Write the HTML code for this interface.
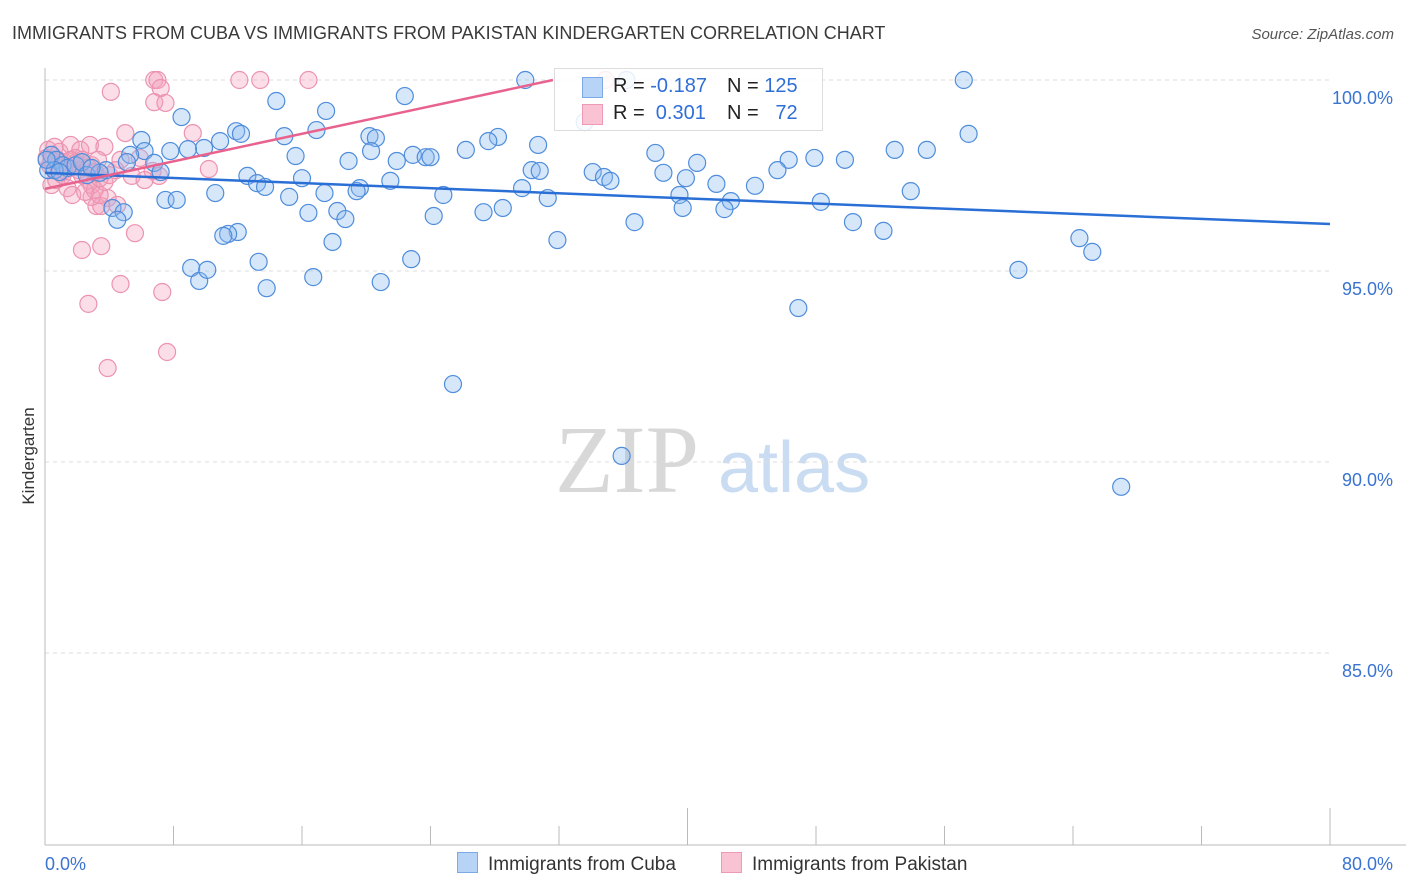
<!DOCTYPE html>
<html><head><meta charset="utf-8">
<style>
body{margin:0;background:#fff;font-family:"Liberation Sans",sans-serif;}
#c{position:relative;width:1406px;height:892px;overflow:hidden}
</style></head>
<body>
<div id="c">
<svg id="s" width="1406" height="892" xmlns="http://www.w3.org/2000/svg">
<text x="12" y="39" font-size="18" fill="#3a3a3a">IMMIGRANTS FROM CUBA VS IMMIGRANTS FROM PAKISTAN KINDERGARTEN CORRELATION CHART</text>
<text x="1394" y="39" font-size="15" fill="#555" font-style="italic" text-anchor="end">Source: ZipAtlas.com</text>
<text x="34" y="456" font-size="17" fill="#333" text-anchor="middle" transform="rotate(-90 34 456)">Kindergarten</text>
<g>
<text x="555" y="492" font-size="96" fill="#d8d8d8" font-family="Liberation Serif, serif">ZIP</text>
<text x="718" y="492" font-size="72" fill="#c9dcf2">atlas</text>
</g>
<g id="grid"></g>
<g id="axes"></g>
<g id="pts"></g>
<g id="trend"></g>
</svg>
<div style="position:absolute;left:554px;top:68px;width:267px;height:61px;border:1px solid #ddd;background:rgba(255,255,255,0.85);font-size:20px;">
 <div style="position:absolute;left:27px;top:8px;width:19px;height:19px;background:#b7d3f5;border:1px solid #7aa9e6"></div>
 <div style="position:absolute;left:58px;top:6px;color:#222">R = <span style="color:#2f6fd6">-0.187</span></div>
 <div style="position:absolute;left:172px;top:6px;color:#222">N = <span style="color:#2f6fd6">125</span></div>
 <div style="position:absolute;left:27px;top:35px;width:19px;height:19px;background:#f9c3d3;border:1px solid #ee9ab4"></div>
 <div style="position:absolute;left:58px;top:33px;color:#222">R = &nbsp;<span style="color:#2f6fd6">0.301</span></div>
 <div style="position:absolute;left:172px;top:33px;color:#222">N = &nbsp;&nbsp;<span style="color:#2f6fd6">72</span></div>
</div>
<div style="position:absolute;top:852px;left:457px;font-size:19px;color:#333;">
 <span style="position:absolute;left:0;top:0;white-space:nowrap"><span style="display:inline-block;width:19px;height:19px;background:#b7d3f5;border:1px solid #7aa9e6;vertical-align:-3px;margin-right:10px"></span>Immigrants from Cuba</span>
 <span style="position:absolute;left:264px;top:0;white-space:nowrap"><span style="display:inline-block;width:19px;height:19px;background:#f9c3d3;border:1px solid #ee9ab4;vertical-align:-3px;margin-right:10px"></span>Immigrants from Pakistan</span>
</div>
</div>
<script>
const yTicks=[100,95,90,85];
const yTickLabels=["100.0%","95.0%","90.0%","85.0%"];
const xTickLabels=["0.0%","80.0%"];
const cubaX=[29.9,36.2,57.2,14.4,22.4,17.5,8.5,11.9,6.0,14.9,20.2,20.6,16.9,12.2,28.2,27.6,30.7,26.2,9.9,10.9,8.9,7.8,6.2,15.6,20.3,22.9,23.7,24.0,21.9,18.9,38.0,40.6,46.3,47.9,49.8,52.9,54.9,57.5,30.3,30.8,34.1,34.8,35.2,38.5,39.9,45.6,5.3,6.8,3.8,5.1,7.2,12.6,13.2,13.7,16.0,21.5,19.6,19.4,17.4,10.6,15.2,24.8,29.7,31.3,39.5,41.8,44.2,42.7,53.9,48.3,7.5,8.2,4.2,4.9,4.5,18.2,18.7,16.4,24.2,27.3,28.5,39.7,42.3,36.7,50.3,52.2,64.4,65.2,12.0,11.4,11.1,17.9,31.9,9.1,9.6,10.1,13.3,16.7,13.8,20.9,22.8,60.6,46.9,25.4,35.9,67.0,0.2,0.4,0.7,1.1,1.4,1.9,2.3,2.6,3.4,2.9,0.6,0.9,0.1,33.6];
const cubaY=[100,100,100,99.45,99.58,99.19,99.03,98.66,98.43,98.53,98.53,98.48,98.69,98.59,98.51,98.4,98.3,98.17,98.22,98.4,98.19,98.14,98.14,98.01,98.14,98.04,97.98,97.98,97.88,97.88,98.09,97.83,97.91,97.96,97.91,98.17,98.17,98.59,97.64,97.62,97.59,97.46,97.36,97.57,97.43,97.64,98.04,97.83,97.64,97.85,97.59,97.49,97.3,97.2,97.43,97.36,97.17,97.09,97.04,97.04,96.94,96.99,97.17,96.91,96.99,97.28,97.23,96.83,97.09,96.81,96.86,96.86,96.65,96.54,96.34,96.57,96.36,96.52,96.44,96.54,96.65,96.65,96.62,96.28,96.28,96.05,95.86,95.5,96.02,95.97,95.92,95.76,95.81,95.08,94.74,95.03,95.24,94.84,94.55,94.71,95.31,95.03,94.03,92.04,90.16,89.35,97.64,98.04,97.91,97.77,97.70,97.77,97.85,97.51,97.57,97.70,97.64,97.59,97.91,98.9];
const pakX=[6.8,7.0,12.1,13.4,16.4,4.1,7.2,6.8,7.5,5.0,9.2,10.2,6.7,7.1,5.4,6.2,3.9,4.5,3.2,3.5,2.9,5.6,2.3,3.5,4.7,7.3,2.7,7.6,3.9,0.2,0.6,0.9,1.6,2.2,2.8,3.7,4.7,5.9,0.3,0.6,0.8,1.2,1.6,1.9,2.1,2.3,2.7,2.9,3.1,3.4,3.7,4.0,4.4,0.4,0.7,1.1,1.4,1.7,2.5,2.9,3.3,0.1,0.4,0.8,1.2,1.6,1.9,2.3,2.7,3.1,3.4,34.9];
const pakY=[100,100,100,100,100,99.69,99.79,99.42,99.40,98.61,98.61,97.67,97.62,97.49,97.49,97.38,96.91,96.73,96.70,96.70,96.94,95.99,95.55,95.65,94.66,94.45,94.14,92.88,92.46,98.17,98.25,98.12,98.30,98.17,98.30,98.25,97.91,97.96,97.77,97.64,97.91,97.85,97.70,97.96,97.64,97.51,97.38,97.25,97.12,96.99,97.33,97.51,97.64,97.25,97.38,97.51,97.17,96.99,97.07,97.77,97.91,97.96,97.91,97.77,97.64,97.91,97.83,97.91,97.70,97.59,97.43,100];
const cubaTrend=[97.57,96.23];
const pakTrend=[97.15,104.36];

const NS="http://www.w3.org/2000/svg";
const X=v=>45+v/80*1285;
const Y=v=>80+(100-v)/5*191;
function mk(t,a,p){const e=document.createElementNS(NS,t);for(const k in a)e.setAttribute(k,a[k]);p.appendChild(e);return e;}
const grid=document.getElementById('grid'),axes=document.getElementById('axes'),pts=document.getElementById('pts'),tr=document.getElementById('trend');
yTicks.forEach((t,i)=>{
 const l=mk('line',{x1:45,x2:1330,y1:Y(t),y2:Y(t),stroke:'#ddd','stroke-dasharray':'4 4'},grid);
 
 
 const tx=mk('text',{x:1393,y:Y(t)+24,'font-size':18,fill:'#3b73d1','text-anchor':'end'},axes);
 tx.textContent=yTickLabels[i];
 
 
});
const la=mk('line',{x1:45,x2:45,y1:68,y2:845,stroke:'#bbb'},axes);


const ba=mk('line',{x1:45,x2:1406,y1:845,y2:845,stroke:'#bbb'},axes);


for(let v=0;v<=80;v+=8){
 const major=(v===40||v===80);
 const tk=mk('line',{x1:X(v),x2:X(v),y1:major?808:826,y2:845,stroke:'#bbb'},axes);
 
 
}
[[0,'start'],[80,'end']].forEach((d,i)=>{
 const tx=mk('text',{x:i?1393:45,y:870,'font-size':18,fill:'#3b73d1','text-anchor':d[1]},axes);
 tx.textContent=xTickLabels[i];
 
 
});
pakX.forEach((x,i)=>{
 const c=mk('circle',{cx:X(x),cy:Y(pakY[i]),r:8.5,fill:'rgba(244,160,188,0.35)',stroke:'#ec93b0','stroke-width':1.2},pts);
 
 
});
cubaX.forEach((x,i)=>{
 const c=mk('circle',{cx:X(x),cy:Y(cubaY[i]),r:8.5,fill:'rgba(140,185,240,0.35)',stroke:'#4f8ddb','stroke-width':1.2},pts);
 
 
});
const bl=mk('line',{x1:X(0),y1:Y(cubaTrend[0]),x2:X(80),y2:Y(cubaTrend[1]),stroke:'#2a6fd6','stroke-width':2.5},tr);


const slope=(pakTrend[1]-pakTrend[0])/80, xe=(100-pakTrend[0])/slope;
const pl=mk('line',{x1:X(0),y1:Y(pakTrend[0]),x2:X(xe),y2:Y(100),stroke:'#e8628e','stroke-width':2.5},tr);


</script>
</body></html>
